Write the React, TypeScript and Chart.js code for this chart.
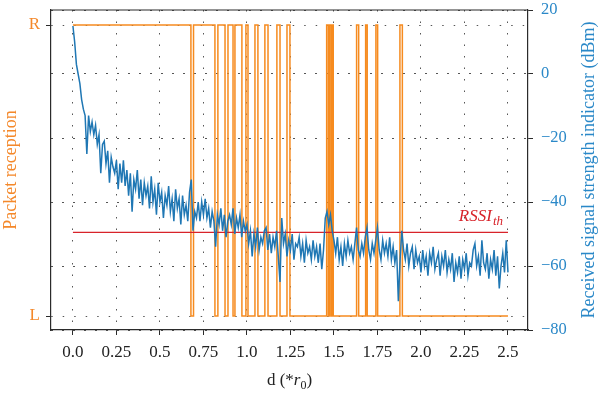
import React, { useEffect, useRef } from 'react';
import { Chart, registerables } from 'chart.js';

Chart.register(...registerables);

// ---------- data ----------
const rssiStart = 0;
const rssiStep = 0.01;
const rssiValues = [
  15, 10, 3, 0, -3, -8, -11, -13, -25, -13,
  -18, -15, -19, -16, -22, -19, -31, -22, -21, -28,
  -24, -34, -26, -29, -31, -27, -36, -28, -34, -27,
  -35, -30, -38, -31, -43, -33, -36, -30, -39, -33,
  -41, -34, -38, -35, -42, -32, -40, -36, -44, -34,
  -40, -37, -45, -38, -41, -35, -43, -39, -46, -36,
  -42, -39, -47, -38, -44, -41, -46, -37, -33, -49,
  -43, -45, -40, -46, -40, -44, -39, -45, -42, -48,
  -43, -46, -54, -44, -47, -42, -49, -44, -51, -46,
  -44, -47, -42, -50, -45, -48, -44, -51, -46, -49,
  -47, -53, -49, -57, -50, -54, -48, -55, -51, -53,
  -49, -48, -55, -50, -56, -51, -54, -49, -57, -65,
  -45, -53, -50, -57, -52, -55, -50, -58, -53, -54,
  -51, -57, -53, -59, -52, -56, -54, -58, -52, -57,
  -54, -59, -53, -61, -55, -45, -43, -47, -44, -49,
  -52, -56, -51, -58, -54, -60, -53, -57, -52, -56,
  -54, -58, -53, -48, -55, -57, -53, -56, -51, -48,
  -55, -58, -53, -56, -52, -48, -55, -58, -52, -56,
  -53, -57, -51, -58, -54, -59, -55, -71, -58, -49,
  -55, -58, -53, -60, -56, -54, -61, -55, -59, -57,
  -62, -55, -60, -57, -63, -56, -59, -54, -61, -58,
  -56, -63, -57, -60, -55, -62, -58, -61, -56, -65,
  -59, -62, -57, -64, -58, -61, -56, -63, -59, -60,
  -55, -53, -60, -57, -63, -52, -59, -61, -56, -64,
  -58, -61, -55, -63, -57, -67, -60, -56, -62, -52,
  -62,
];

// packet reception: 1 = R (received), 0 = L (lost); value holds from x until next x
const receptionX = [
  0, 0.678, 0.693, 0.816, 0.833, 0.874, 0.891, 0.92, 0.931, 0.971,
  0.994, 1.006, 1.046, 1.063, 1.103, 1.121, 1.172, 1.19, 1.23, 1.247,
  1.458, 1.468, 1.474, 1.483, 1.489, 1.496, 1.63, 1.642, 1.682, 1.691,
  1.741, 1.751, 1.879, 1.893, 2.5,
];
const receptionLevel = [
  1, 0, 1, 0, 1, 0, 1, 0, 1, 0,
  1, 0, 1, 0, 1, 0, 1, 0, 1, 0,
  1, 0, 1, 0, 1, 0, 1, 0, 1, 0,
  1, 0, 1, 0, 0,
];

const thresholdValue = -49.5;
const thresholdRange = [0, 2.5];

const xTickValues = [0, 0.25, 0.5, 0.75, 1, 1.25, 1.5, 1.75, 2, 2.25, 2.5];
const xTickLabels = ['0.0', '0.25', '0.5', '0.75', '1.0', '1.25', '1.5', '1.75', '2.0', '2.25', '2.5'];
const rssiTickValues = [20, 0, -20, -40, -60, -80];
const rssiTickLabels = ['20', '0', '\u221220', '\u221240', '\u221260', '\u221280'];
const receptionTickValues = [0, 1];
const receptionTickLabels = ['L', 'R'];

// ---------- styles ----------
const ORANGE = '#F68B1F';
const ORANGE_TEXT = '#F4882A';
const BLUE = '#1F77B4';
const BLUE_TEXT = '#2A88C8';
const RED = '#D8232A';
const FRAME = '#2b2b2b';
const GRID = '#555555';
const SERIF = '"Liberation Serif", "Times New Roman", serif';

const zeroPad = (s: any) => {
  s.paddingTop = 0;
  s.paddingBottom = 0;
  s.paddingLeft = 0;
  s.paddingRight = 0;
};

const decorPlugin = {
  id: 'decor',
  afterDraw(chart: any) {
    const { ctx, chartArea, scales } = chart;
    const xs = scales.x;
    const yR = scales.yR;
    ctx.save();
    // top frame line
    ctx.strokeStyle = FRAME;
    ctx.lineWidth = 1.2;
    ctx.beginPath();
    ctx.moveTo(chartArea.left, chartArea.top);
    ctx.lineTo(chartArea.right, chartArea.top);
    ctx.stroke();

    // RSSI_th label
    const ly = yR.getPixelForValue(thresholdValue);
    const lx = xs.getPixelForValue(thresholdRange[1]) - 5;
    ctx.fillStyle = RED;
    ctx.textBaseline = 'alphabetic';
    ctx.textAlign = 'right';
    ctx.font = `italic 13px ${SERIF}`;
    const thW = ctx.measureText('th').width;
    ctx.fillText('th', lx, ly - 7);
    ctx.font = `italic 17px ${SERIF}`;
    ctx.fillText('RSSI', lx - thW - 1, ly - 11);

    // x axis title: d (*r0)
    ctx.fillStyle = '#222';
    ctx.textAlign = 'left';
    const parts = [
      { t: 'd (*', f: `17px ${SERIF}`, dy: 0 },
      { t: 'r', f: `italic 17px ${SERIF}`, dy: 0 },
      { t: '0', f: `12px ${SERIF}`, dy: 4 },
      { t: ')', f: `17px ${SERIF}`, dy: 0 },
    ];
    let total = 0;
    for (const p of parts) {
      ctx.font = p.f;
      total += ctx.measureText(p.t).width;
    }
    let cx = (chartArea.left + chartArea.right) / 2 - total / 2;
    const by = 385;
    for (const p of parts) {
      ctx.font = p.f;
      ctx.fillText(p.t, cx, by + p.dy);
      cx += ctx.measureText(p.t).width;
    }

    // y titles
    const cy = (chartArea.top + chartArea.bottom) / 2;
    ctx.font = `18px ${SERIF}`;
    ctx.textAlign = 'center';
    ctx.fillStyle = ORANGE_TEXT;
    ctx.save();
    ctx.translate(15.5, cy);
    ctx.rotate(-Math.PI / 2);
    ctx.fillText('Packet reception', 0, 0);
    ctx.restore();
    ctx.fillStyle = BLUE_TEXT;
    ctx.save();
    ctx.translate(594, cy);
    ctx.rotate(-Math.PI / 2);
    ctx.fillText('Received signal strength indicator (dBm)', 0, 0);
    ctx.restore();
    ctx.restore();
  },
};

export default function App() {
  const ref = useRef<HTMLCanvasElement | null>(null);
  useEffect(() => {
    if (!ref.current) return;
    Chart.defaults.font.family = SERIF;
    const rssiData = rssiValues.map((v, i) => ({ x: +(rssiStart + i * rssiStep).toFixed(3), y: v }));
    const recData = receptionX.map((x, i) => ({ x, y: receptionLevel[i] }));
    const thrData = thresholdRange.map((x) => ({ x, y: thresholdValue }));

    const chart = new Chart(ref.current, {
      type: 'line',
      data: {
        datasets: [
          {
            label: 'RSSI',
            data: rssiData,
            yAxisID: 'yR',
            borderColor: BLUE,
            borderWidth: 1.5,
            pointRadius: 0,
            tension: 0,
          },
          {
            label: 'RSSI_th',
            data: thrData,
            yAxisID: 'yR',
            borderColor: RED,
            borderWidth: 1.2,
            pointRadius: 0,
          },
          {
            label: 'Packet reception',
            data: recData,
            yAxisID: 'yL',
            borderColor: ORANGE,
            borderWidth: 1.5,
            pointRadius: 0,
            stepped: true,
          },
        ],
      },
      options: {
        responsive: false,
        animation: false,
        layout: { padding: { top: 10, left: 0, right: 0, bottom: 0 } },
        plugins: { legend: { display: false }, tooltip: { enabled: false } },
        scales: {
          x: {
            type: 'linear',
            position: 'bottom',
            min: -0.126,
            max: 2.615,
            afterBuildTicks: (s: any) => {
              s.ticks = xTickValues.map((v) => ({ value: v }));
            },
            afterFit: (s: any) => {
              s.height = 66;
              zeroPad(s);
            },
            ticks: {
              autoSkip: false,
              maxRotation: 0,
              padding: 7,
              color: '#222',
              font: { size: 17, family: SERIF },
              callback: (v: any) => {
                const i = xTickValues.indexOf(Number(v));
                return i >= 0 ? xTickLabels[i] : '';
              },
            },
            grid: {
              color: GRID,
              lineWidth: 1,
              tickLength: 5,
              tickColor: FRAME,
              tickBorderDash: [],
            },
            border: { display: true, color: FRAME, width: 1.2, dash: [1.5, 10] },
          },
          yL: {
            type: 'linear',
            position: 'left',
            min: -0.0481,
            max: 1.0516,
            afterBuildTicks: (s: any) => {
              s.ticks = receptionTickValues.map((v) => ({ value: v }));
            },
            afterFit: (s: any) => {
              s.width = 51;
              zeroPad(s);
            },
            ticks: {
              padding: 6,
              color: ORANGE_TEXT,
              font: { size: 17, family: SERIF },
              callback: (v: any) => {
                const i = receptionTickValues.indexOf(Number(v));
                return i >= 0 ? receptionTickLabels[i] : '';
              },
            },
            grid: {
              color: GRID,
              lineWidth: 1,
              tickLength: 5,
              tickColor: FRAME,
              tickBorderDash: [],
            },
            border: { display: true, color: FRAME, width: 1.2, dash: [1.5, 10] },
          },
          yR: {
            type: 'linear',
            position: 'right',
            min: -80,
            max: 20,
            afterBuildTicks: (s: any) => {
              s.ticks = rssiTickValues.map((v) => ({ value: v }));
            },
            afterFit: (s: any) => {
              s.width = 72;
              zeroPad(s);
            },
            ticks: {
              padding: 8,
              color: BLUE_TEXT,
              font: { size: 16.5, family: SERIF },
              callback: (v: any) => {
                const i = rssiTickValues.indexOf(Number(v));
                return i >= 0 ? rssiTickLabels[i] : '';
              },
            },
            grid: {
              color: GRID,
              lineWidth: 1,
              tickLength: 5,
              tickColor: FRAME,
              tickBorderDash: [],
            },
            border: { display: true, color: FRAME, width: 1.2, dash: [2, 9] },
          },
        },
      },
      plugins: [decorPlugin],
    } as any);
    return () => chart.destroy();
  }, []);

  return (
    <div style={{ position: 'fixed', left: 0, top: 0, width: 600, height: 396, background: '#fff' }}>
      <canvas ref={ref} width={600} height={396} style={{ display: 'block', width: 600, height: 396 }} />
    </div>
  );
}
